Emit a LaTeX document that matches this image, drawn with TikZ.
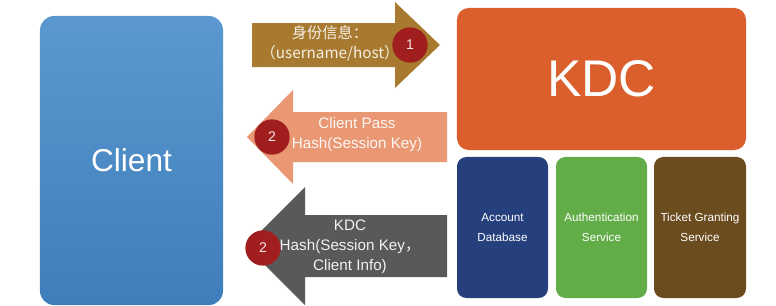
\documentclass[tikz,border=0pt]{standalone}
\usepackage{fontspec}
\setmainfont{Liberation Sans}
\newfontfamily\cjk{Noto Sans CJK SC}
\usepackage{tikz}
\usetikzlibrary{positioning}
\definecolor{clienttop}{HTML}{5B98D0}
\definecolor{clientbot}{HTML}{3F7EBB}
\definecolor{kdcorange}{HTML}{DB5F2D}
\definecolor{acctblue}{HTML}{26407E}
\definecolor{authgreen}{HTML}{63AD48}
\definecolor{tgsbrown}{HTML}{6A4C1F}
\definecolor{reqgold}{HTML}{A87A2F}
\definecolor{repsalmon}{HTML}{E99873}
\definecolor{repgray}{HTML}{5A5859}
\definecolor{numred}{HTML}{A11E1E}
\tikzset{
  panel/.style={rounded corners=12pt, align=center, text=white, inner sep=0pt},
  part/.style={panel, rounded corners=8pt, minimum width=2.73cm, minimum height=4.23cm, font=\fontsize{10}{17}\selectfont},
  msg/.style={align=center, font=\fontsize{13}{17}\selectfont, inner sep=0pt},
  num/.style={circle, fill=numred, text=white!88!numred, minimum size=1.06cm, inner sep=0pt, font=\fontsize{12}{12}\selectfont}}

\begin{document}
\begin{tikzpicture}[x=0.03cm, y=-0.03cm]
  \useasboundingbox (0,0) rectangle (776,306);
  % client and kdc
  \node[panel, top color=clienttop, bottom color=clientbot, minimum width=5.49cm, minimum height=8.67cm,
        font=\fontsize{27}{27}\selectfont] (client) at (131.5,160.5) {Client};
  \node[panel, fill=kdcorange, rounded corners=10pt, minimum width=8.67cm, minimum height=4.26cm,
        font=\fontsize{44}{44}\selectfont] (kdc) at (601.5,79) {KDC};
  % kdc parts
  \node[part, fill=acctblue] (acct) at (502.5,227.5) {Account\\Database};
  \node[part, fill=authgreen] (auth) at (601.5,227.5) {Authentication\\Service};
  \node[part, fill=tgsbrown, minimum width=2.76cm] (tgs) at (700,227.5) {Ticket Granting\\Service};
  % message arrows
  \fill[reqgold] (252,23) -- (395,23) -- (395,2) -- (440,45) -- (395,88) -- (395,67) -- (252,67) -- cycle;
  \fill[repsalmon] (447,112) -- (293,112) -- (293,90) -- (247,137) -- (293,184) -- (293,162) -- (447,162) -- cycle;
  \fill[repgray] (447,215) -- (305,215) -- (305,187) -- (246,246) -- (305,305) -- (305,277) -- (447,277) -- cycle;
  \node[msg, text=white!88!reqgold] (asreq) at (330,43) {{\cjk 身份信息：}\\{\cjk （username/host）}};
  \node[msg, text=white!92!repsalmon] (asrep) at (357,135) {Client Pass\\Hash(Session Key)};
  \node[msg, text=white!92!repgray] (tgsrep) at (350,247) {KDC\\Hash(Session Key{\cjk ，}\\Client Info)};
  % step numbers
  \node[num] (one) at (410,45) {1};
  \node[num] (two) at (272,137) {2};
  \node[num] (three) at (263,248) {2};
\end{tikzpicture}
\end{document}
